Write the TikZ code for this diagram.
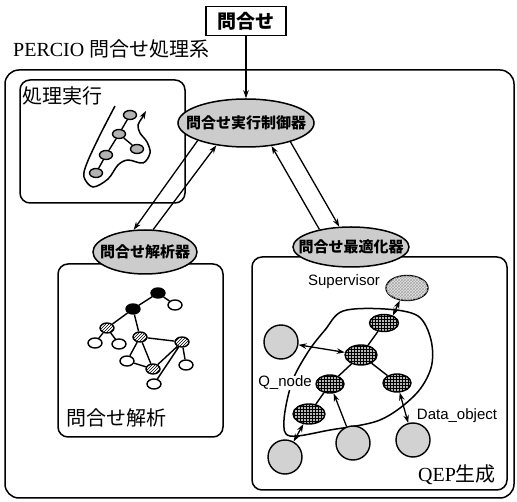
\documentclass[tikz,border=0pt]{standalone}
\usepackage{fontspec}
\setmainfont{Liberation Serif}
\newfontfamily\jp{Noto Sans CJK JP}
\newfontfamily\arialf{Liberation Sans}
\usetikzlibrary{shapes.geometric,arrows.meta,patterns}
\begin{document}
\begin{tikzpicture}[x=1pt,y=-1pt,
  box/.style={draw,line width=1.5pt,rounded corners=10pt},
  proc/.style={ellipse,draw,line width=1.5pt,fill=gray!40,inner sep=0pt},
  proclbl/.style={font=\jp\bfseries\fontsize{15}{15}\selectfont,inner sep=0pt},
  tip/.tip={Stealth[length=8pt,width=5.5pt]},
  arr/.style={line width=1.3pt,-tip},
  darr/.style={line width=1.3pt,tip-tip},
  edge/.style={line width=1.4pt},
  enode/.style={ellipse,draw,line width=1.4pt,fill=gray!60,minimum width=13pt,minimum height=9pt,inner sep=0pt},
  wnode/.style={ellipse,draw,line width=1.4pt,fill=white,minimum width=14pt,minimum height=10pt,inner sep=0pt},
  hnode/.style={wnode,preaction={fill=white},pattern=north east lines},
  bnode/.style={wnode,fill=black},
  qnode/.style={ellipse,draw,line width=1.4pt,fill=gray!55,postaction={pattern=grid,pattern color=black}, inner sep=0pt},
  dnode/.style={ellipse,draw,line width=1.4pt,fill=gray!35,minimum width=34pt,minimum height=34pt,inner sep=0pt},
  lbl/.style={font=\arialf\fontsize{15}{15}\selectfont,inner sep=0pt},
  big/.style={font=\fontsize{20}{20}\selectfont,inner sep=0pt},
  ]
\useasboundingbox (0,0) rectangle (517,502);
% boxes
\draw[box,rounded corners=14pt] (5,70) rectangle (514,498);
\draw[box] (20,80) rectangle (185,203);
\draw[box] (58,264) rectangle (223,437);
\draw[box] (252,257) rectangle (507,490);

% texts
\node[big,anchor=west] (title) at (13,49) {PERCIO {\jp 問合せ処理系}};
\node[big,font=\jp\fontsize{20}{20}\selectfont] (lexec) at (63,96) {処理実行};
\node[big,font=\jp\fontsize{20}{20}\selectfont] (lparse) at (116,418) {問合せ解析};
\node[big] (lqep) at (457,475) {QEP{\jp 生成}};

% query box
\node[draw,line width=1.6pt,minimum width=80pt,minimum height=29pt,inner sep=0pt,font=\jp\bfseries\fontsize{19}{19}\selectfont] (q) at (246,21) {問合せ};

% processors
\node[proc,minimum width=136pt,minimum height=48pt] (ctrl) at (246,123) {};
\node[proclbl] at (ctrl) {問合せ実行制御器};
\node[proc,minimum width=104pt,minimum height=44pt] (parse) at (145,252) {};
\node[proclbl] at (parse) {問合せ解析器};
\node[proc,minimum width=116pt,minimum height=40pt] (opt) at (351,247) {};
\node[proclbl] at (opt) {問合せ最適化器};

\draw[arr] (q) -- (ctrl);
\draw[arr] (ctrl.200) -- (parse.117);
\draw[arr] (parse.70) -- (ctrl.217);
\draw[arr] (opt.151) -- (ctrl.318);
\draw[arr] (ctrl.337) -- (opt.120);

% execution
\draw[line width=1.5pt,-tip] plot[smooth,tension=0.55] coordinates {(115,106) (100,135) (87,163) (84,177) (93,187) (108,179) (118,165) (128,160) (143,163) (150,153) (147,142) (140,133) (138,125) (142,118) (146,111)};
\node[enode] (e1) at (130,115) {};
\node[enode] (e2) at (119,134) {};
\node[enode] (e3) at (137,149) {};
\node[enode] (e4) at (106,155) {};
\node[enode] (e5) at (96,173) {};
\draw[edge] (e1)--(e2) (e2)--(e3) (e2)--(e4) (e4)--(e5);

% parse graph
\node[bnode] (pa) at (158,293) {};
\node[wnode] (pb) at (175,305) {};
\node[bnode] (pc) at (133,309) {};
\node[hnode] (pd) at (107,328) {};
\node[wnode] (pe) at (95,343) {};
\node[wnode] (pf) at (119,344) {};
\node[hnode] (pg) at (140,337) {};
\node[hnode] (ph) at (182,342) {};
\node[wnode] (pi) at (127,361) {};
\node[hnode] (pj) at (153,369) {};
\node[wnode] (pk) at (186,365) {};
\node[wnode] (pl) at (154,384) {};
\draw[edge] (pa)--(pb) (pa)--(pc) (pc)--(pd) (pd)--(pe) (pd)--(pf) (pc)--(pg)
  (pg)--(pi) (pg)--(pj) (pg)--(ph) (pi)--(pj) (ph)--(pj) (ph)--(pl) (ph)--(pk);

% QEP
\draw[line width=1.5pt] plot[smooth cycle,tension=0.55] coordinates {(343,311) (385,309) (418,316) (431,340) (431,368) (415,395) (380,420) (330,430) (290,436) (284,420) (292,382) (308,352) (325,330)};
\node[ellipse,draw,line width=1.4pt,fill=gray!20,postaction={pattern=crosshatch,pattern color=gray!70},minimum width=42pt,minimum height=25pt,inner sep=0pt] (sup) at (407,288) {};
\node[qnode,minimum width=29pt,minimum height=17pt] (n1) at (384,323) {};
\node[qnode,minimum width=32pt,minimum height=20pt] (n2) at (361,355) {};
\node[qnode,minimum width=28pt,minimum height=18pt] (n3) at (330,384) {};
\node[qnode,minimum width=28pt,minimum height=18pt] (n4) at (397,383) {};
\node[qnode,minimum width=32pt,minimum height=20pt] (n5) at (309,414) {};
\node[dnode] (d1) at (281,342) {};
\node[dnode] (d2) at (285,457) {};
\node[dnode] (d3) at (353,443) {};
\node[dnode] (d4) at (413,440) {};
\draw[edge] (n1)--(n2) (n2)--(n3) (n2)--(n4) (n3)--(n5);
\draw[darr] (sup.240) -- (n1.40);
\draw[darr] (d1) -- (n2);
\draw[darr] (d2) -- (n5);
\draw[arr] (d3) -- (n3);
\draw[darr] (d4) -- (n4);
\node[lbl] (lsup) at (344,282) {Supervisor};
\node[lbl,fill=white] (lq) at (285,383) {Q\_node};
\node[lbl] (ld) at (457,416) {Data\_object};
\end{tikzpicture}
\end{document}
